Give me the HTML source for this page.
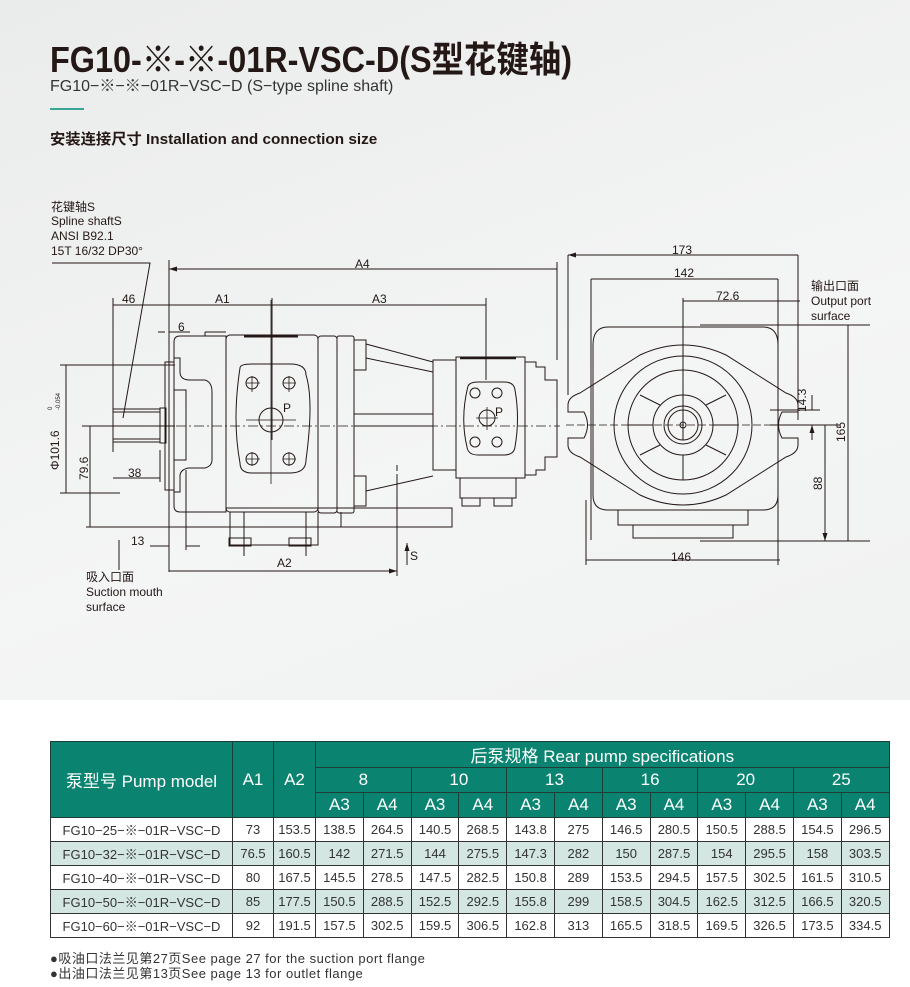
<!DOCTYPE html>
<html><head><meta charset="utf-8"><style>
*{margin:0;padding:0;box-sizing:border-box}
body{width:910px;height:987px;background:#fff;position:relative;overflow:hidden;font-family:"Liberation Sans","Noto Sans CJK SC",sans-serif;color:#231815}
#bg{position:absolute;left:0;top:0;width:910px;height:700px;background:linear-gradient(160deg,#eaeceb 0%,#f4f5f5 60%,#f0f1f1 100%)}
.t{position:absolute;white-space:nowrap}
table{position:absolute;left:50px;top:741px;border-collapse:collapse;table-layout:fixed;width:839px}
td{border:1px solid #333;text-align:center;font-size:13px;height:24px;padding:0;color:#333}
.h td{background:#0a8470;color:#fff;font-size:17px;border-color:#1d3d36;height:25px}
.alt td{background:#d3e6e1}
</style></head><body>
<div id="bg"></div>
<div class="t" style="left:50px;top:31px;font-size:36px;font-weight:bold;transform:scaleX(0.9);transform-origin:left">FG10-※-※-01R-VSC-D(S型花键轴)</div>
<div class="t" style="left:50px;top:72px;font-size:16px;color:#333">FG10−※−※−01R−VSC−D (S−type spline shaft)</div>
<div style="position:absolute;left:50px;top:108px;width:34px;height:2px;background:#3aa594"></div>
<div class="t" style="left:50px;top:128px;font-size:15px;font-weight:bold;transform:scaleX(1.02);transform-origin:left">安装连接尺寸 Installation and connection size</div>

<svg width="910" height="700" style="position:absolute;left:0;top:0" font-family="Liberation Sans, Noto Sans CJK SC, sans-serif" font-size="12" fill="none" stroke="#231815" stroke-width="1">
<defs><marker id="a" markerWidth="8" markerHeight="6" refX="8" refY="3" orient="auto-start-reverse"><path d="M0,0.5 L8,3 L0,5.5" fill="#231815" stroke="none"/></marker></defs>
<g fill="#231815" stroke="none">
<text x="51" y="211">花键轴S</text><text x="51" y="225">Spline shaftS</text><text x="51" y="240">ANSI B92.1</text><text x="51" y="255">15T 16/32 DP30°</text>
<text x="86" y="581">吸入口面</text><text x="86" y="596">Suction mouth</text><text x="86" y="611">surface</text>
<text x="811" y="290">输出口面</text><text x="811" y="305">Output port</text><text x="811" y="320">surface</text>
<text x="355" y="268">A4</text><text x="122" y="303">46</text><text x="215" y="303">A1</text><text x="372" y="303">A3</text><text x="178" y="331">6</text>
<text x="128" y="477">38</text><text x="131" y="545">13</text><text x="277" y="567">A2</text><text x="410" y="560">S</text>
<text transform="translate(59,470) rotate(-90)">Φ101.6</text><text font-size="6" transform="translate(52,410) rotate(-90)">0</text><text font-size="6" transform="translate(60,410) rotate(-90)">-0.054</text>
<text transform="translate(88,480) rotate(-90)">79.6</text>
<text x="672" y="254">173</text><text x="674" y="277">142</text><text x="716" y="300">72.6</text><text x="671" y="561">146</text>
<text transform="translate(806,412) rotate(-90)">14.3</text><text transform="translate(822,490) rotate(-90)">88</text><text transform="translate(845,442) rotate(-90)">165</text>
<text x="283" y="412">P</text><text x="495" y="416">P</text>
</g>
<path d="M52,263 H150 L123,418"/>
<path d="M169,260 V572 M113,298 V452 M272,298 V440 M486,298 V380 M557,262 V360 M160,450 V482 M186,470 V550 M397,480 V576 M60,365 H175 M60,493 H120 M86,527 H230 M82,426 H175"/>
<path marker-start="url(#a)" marker-end="url(#a)" d="M169,269 H557 M113,305 H169 M169,305 H272 M272,305 H486 M113,478 H160 M66,365 V493 M90,426 V527 M169,571 H397"/>
<path marker-end="url(#a)" d="M158,332 H165 M190,332 H169 M150,546 H169 M200,546 H186 M119,570 V540 M407,565 V543"/>
<rect x="113" y="409" width="47" height="33"/><path d="M113,412 H160 M113,439 H160"/><rect x="160" y="408" width="6" height="35"/>
<rect x="165" y="362" width="9" height="128"/>
<path d="M174,342 Q174,336 180,336 H226 V512 H180 Q174,512 174,506 Z"/>
<path d="M174,358 H180 V372 Q180,380 190,380 H205 Q212,382 212,392 V460 Q212,466 205,468 H188 Q180,470 180,476 V492 H174"/>
<path d="M174,390 H186 V460 H174"/><path d="M205,332 H226 M205,332 V336"/>
<rect x="226" y="335" width="92" height="177" rx="4"/><path d="M244,336 H298" stroke-width="3"/>
<path d="M240,368 Q240,364 252,364 H290 Q306,364 306,375 Q314,400 306,460 Q306,473 290,473 H252 Q240,473 240,463 Q232,420 240,368Z"/>
<circle cx="252" cy="383" r="6"/><circle cx="289" cy="383" r="6"/><circle cx="252" cy="459" r="6"/><circle cx="289" cy="459" r="6"/>
<circle cx="271" cy="420" r="12"/>
<path d="M246,383 H260 M283,383 H296 M246,459 H260 M283,459 H296 M252,376 V392 M289,376 V392 M252,452 V466 M289,452 V466 M246,420 H296 M271,300 V484" stroke-width="0.8"/>
<rect x="318" y="336" width="19" height="177" rx="3"/><rect x="337" y="336" width="17" height="177" rx="2"/>
<rect x="354" y="340" width="12" height="30"/><rect x="354" y="476" width="12" height="30"/>
<path d="M366,344 L433,362 M366,358 L433,372 M366,491 L433,476 M354,414 H433 M354,426 H433"/>
<path d="M226,508 H452 V527 H226 M230,512 V545 H318 V512 M244,512 V556 M306,512 V556 M341,512 V527"/>
<rect x="229" y="538" width="22" height="8"/><rect x="289" y="538" width="22" height="8"/>
<path d="M397,465 V560" stroke-dasharray="6,3"/>
<rect x="433" y="360" width="23" height="110"/><rect x="456" y="357" width="69" height="121"/><path d="M460,358 H516" stroke-width="2.5"/>
<path d="M468,386 Q470,382 478,382 H504 Q514,382 515,390 Q520,418 515,447 Q514,455 504,455 H478 Q468,455 467,447 Q460,418 468,386Z"/>
<circle cx="475" cy="393" r="5"/><circle cx="497" cy="393" r="5"/><circle cx="475" cy="442" r="5"/><circle cx="497" cy="442" r="5"/><circle cx="487" cy="418" r="8"/>
<path d="M476,418 H498 M487,407 V430" stroke-width="0.8"/>
<path d="M525,362 H536 V367 H545 V380 H557 V457 H545 V470 H536 V475 H525"/>
<rect x="460" y="478" width="56" height="20"/><rect x="462" y="498" width="18" height="8"/><rect x="494" y="498" width="18" height="8"/>
<path d="M140,426 H560" stroke-dasharray="10,3,2,3" stroke-width="0.8"/>

<path d="M568,255 V395 M798,255 V420 M591,279 V540 M778,279 V565 M586,500 V565 M683,298 V440 M778,301 H800 M700,325 H870 M700,541 H870 M770,410 H820 M770,425 H840"/>
<path marker-start="url(#a)" marker-end="url(#a)" d="M568,255 H798 M591,279 H778 M683,301 H778 M586,560 H780 M848,325 V541 M825,425 V541"/>
<path marker-end="url(#a)" d="M812,395 V410 M812,440 V425"/>
<path d="M608,327 H763 Q778,327 778,345 V495 Q778,510 763,510 H608 Q593,510 593,495 V345 Q593,327 608,327Z"/>
<path d="M580,393 L640,355 Q683,335 726,355 L786,393 Q798,397 798,405 V412 H782 Q775,425 782,438 H798 V445 Q798,453 786,457 L726,495 Q683,515 640,495 L580,457 Q568,453 568,445 V438 H584 Q591,425 584,412 H568 V405 Q568,397 580,393Z"/>
<circle cx="683" cy="425" r="69"/><circle cx="683" cy="425" r="55"/><circle cx="683" cy="425" r="30"/><circle cx="683" cy="425" r="19"/><circle cx="683" cy="425" r="15"/><circle cx="683" cy="425" r="3"/>
<path d="M683,370 V395 M683,455 V480 M640,395 L660,405 M726,395 L706,405 M640,455 L660,445 M726,455 L706,445 M628,425 H653 M713,425 H738"/>
<path d="M618,510 H748 V525 H618 Z M633,525 H733 V538 H633Z"/>
<path d="M566,425 H800" stroke-dasharray="8,3" stroke-width="0.8"/>
</svg>

<table>
<colgroup><col style="width:182px"><col style="width:41px"><col style="width:42px"><col span="12" style="width:47.8px"></colgroup>
<tr class="h"><td rowspan="3">泵型号 Pump model</td><td rowspan="3">A1</td><td rowspan="3">A2</td><td colspan="12">后泵规格 Rear pump specifications</td></tr>
<tr class="h"><td colspan="2">8</td><td colspan="2">10</td><td colspan="2">13</td><td colspan="2">16</td><td colspan="2">20</td><td colspan="2">25</td></tr>
<tr class="h"><td>A3</td><td>A4</td><td>A3</td><td>A4</td><td>A3</td><td>A4</td><td>A3</td><td>A4</td><td>A3</td><td>A4</td><td>A3</td><td>A4</td></tr>
<tr><td>FG10−25−※−01R−VSC−D</td><td>73</td><td>153.5</td><td>138.5</td><td>264.5</td><td>140.5</td><td>268.5</td><td>143.8</td><td>275</td><td>146.5</td><td>280.5</td><td>150.5</td><td>288.5</td><td>154.5</td><td>296.5</td></tr>
<tr class="alt"><td>FG10−32−※−01R−VSC−D</td><td>76.5</td><td>160.5</td><td>142</td><td>271.5</td><td>144</td><td>275.5</td><td>147.3</td><td>282</td><td>150</td><td>287.5</td><td>154</td><td>295.5</td><td>158</td><td>303.5</td></tr>
<tr><td>FG10−40−※−01R−VSC−D</td><td>80</td><td>167.5</td><td>145.5</td><td>278.5</td><td>147.5</td><td>282.5</td><td>150.8</td><td>289</td><td>153.5</td><td>294.5</td><td>157.5</td><td>302.5</td><td>161.5</td><td>310.5</td></tr>
<tr class="alt"><td>FG10−50−※−01R−VSC−D</td><td>85</td><td>177.5</td><td>150.5</td><td>288.5</td><td>152.5</td><td>292.5</td><td>155.8</td><td>299</td><td>158.5</td><td>304.5</td><td>162.5</td><td>312.5</td><td>166.5</td><td>320.5</td></tr>
<tr><td>FG10−60−※−01R−VSC−D</td><td>92</td><td>191.5</td><td>157.5</td><td>302.5</td><td>159.5</td><td>306.5</td><td>162.8</td><td>313</td><td>165.5</td><td>318.5</td><td>169.5</td><td>326.5</td><td>173.5</td><td>334.5</td></tr>
</table>
<div class="t" style="left:50px;top:948px;font-size:13px;letter-spacing:0.5px;color:#333">●吸油口法兰见第27页See page 27 for the suction port flange</div>
<div class="t" style="left:50px;top:963px;font-size:13px;letter-spacing:0.5px;color:#333">●出油口法兰见第13页See page 13 for outlet flange</div>
</body></html>
